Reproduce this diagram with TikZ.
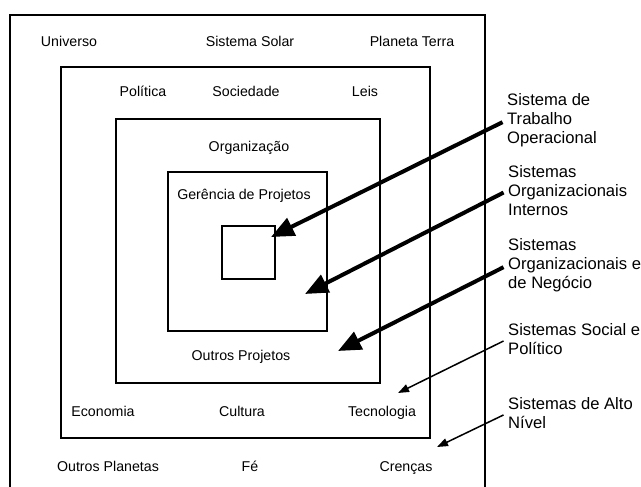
\documentclass[tikz,border=0pt]{standalone}
\usepackage{fontspec}
\setmainfont{Liberation Sans}
\usetikzlibrary{arrows.meta}
\tikzset{
    every node/.style={font=\fontsize{14.2}{16}\selectfont, inner sep=0pt},
    boxline/.style={draw=black, line width=1.6pt},
    sidetext/.style={font=\fontsize{16.6}{19}\selectfont, align=left, anchor=north west},
    bigarrow/.style={-{Triangle[length=23pt,width=19pt]}, line width=4pt, shorten <=5pt},
    smallarrow/.style={-{Triangle[length=11pt,width=8pt]}, line width=1.5pt, shorten <=5pt},
}
\begin{document}
\begin{tikzpicture}[x=1pt,y=-1pt]
\useasboundingbox (0,0) rectangle (641,487);
% outer frame, open at the bottom
\draw[boxline] (10,487) -- (10,15) -- (485,15) -- (485,487);
% nested boxes, outside to inside
\foreach \l/\t/\r/\b in {61/67/430/438, 116/119/380/383, 168/172/327/331, 222/226/275/279}{
  \draw[boxline] (\l,\t) rectangle (\r,\b);
}

% labels inside the frames (x centre / baseline)
\foreach \name/\x/\y/\text in {univ/69/47/Universo, solar/250/47/Sistema Solar, terra/412/47/Planeta Terra,
    pol/143/97/Política, soc/246/97/Sociedade, leis/365/97/Leis,
    org/249/152/Organização, gp/244/200/Gerência de Projetos, op/241/360/Outros Projetos,
    eco/103/416/Economia, cult/242/416/Cultura, tec/382/416/Tecnologia,
    oplan/108/471/Outros Planetas, fe/250/471/Fé, cren/406/471/Crenças}{
  \node[anchor=base] (\name) at (\x,\y) {\text};
}

% system levels on the right
\node[sidetext] (trab) at (507,93) {Sistema de\\Trabalho\\Operacional};
\node[sidetext] (orgint) at (508,165) {Sistemas\\Organizacionais\\Internos};
\node[sidetext] (orgneg) at (508,238) {Sistemas\\Organizacionais e\\de Negócio};
\node[sidetext] (socpol) at (508,323) {Sistemas Social e\\Político};
\node[sidetext] (alto) at (508,397) {Sistemas de Alto\\Nível};

% arrow targets
\coordinate (t1) at (271,237);
\coordinate (t2) at (305,294);
\coordinate (t3) at (338,351);
\coordinate (t4) at (398,393);
\coordinate (t5) at (437,447);

\draw[bigarrow] (trab.west) -- (t1);
\draw[bigarrow] (orgint.west) -- (t2);
\draw[bigarrow] (orgneg.west) -- (t3);
\draw[smallarrow] (socpol.west) -- (t4);
\draw[smallarrow] (alto.west) -- (t5);

\end{tikzpicture}
\end{document}
